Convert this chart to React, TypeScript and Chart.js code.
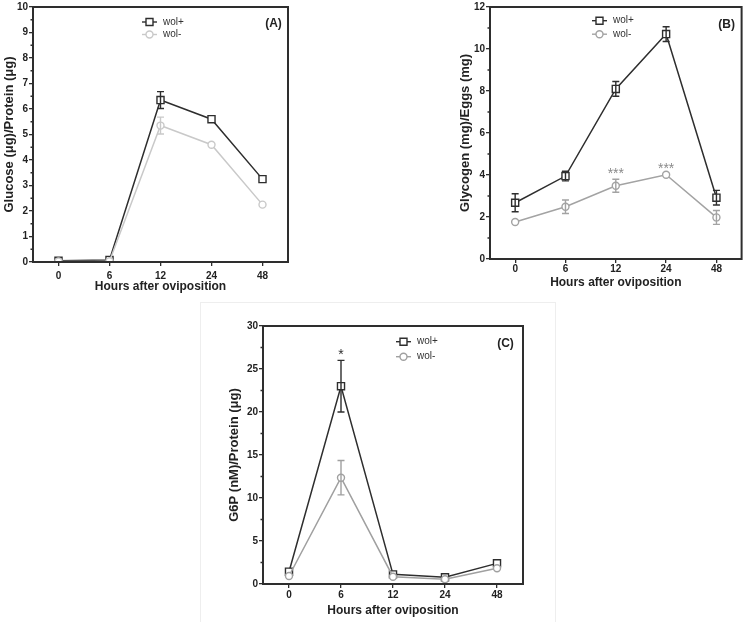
import React, { useEffect, useRef } from 'react';
import { Chart, registerables } from 'chart.js';

Chart.register(...registerables);

// ---------- data ----------
const hours = ['0', '6', '12', '24', '48'];

const glucoseWolPlus = [0.05, 0.08, 6.35, 5.6, 3.25];
const glucoseWolPlusErr = [0, 0, 0.33, 0, 0];
const glucoseWolMinus = [0.02, 0.03, 5.35, 4.6, 2.25];
const glucoseWolMinusErr = [0, 0, 0.33, 0, 0];

const glycogenWolPlus = [2.68, 3.95, 8.1, 10.71, 2.92];
const glycogenWolPlusErr = [0.43, 0.23, 0.35, 0.35, 0.35];
const glycogenWolMinus = [1.76, 2.49, 3.49, 4.01, 1.98];
const glycogenWolMinusErr = [0, 0.32, 0.31, 0, 0.33];

const g6pWolPlus = [1.43, 23.0, 1.12, 0.78, 2.4];
const g6pWolPlusErr = [0, 3.0, 0, 0, 0];
const g6pWolMinus = [0.93, 12.36, 0.85, 0.55, 1.83];
const g6pWolMinusErr = [0, 2.0, 0, 0, 0];

const seriesNames = ['wol+', 'wol-'];
const xTitle = 'Hours after oviposition';

// ---------- style ----------
const FONT = "'Liberation Sans', Arial, Helvetica, sans-serif";
const DARK = '#2e2e2e';
const TEXT = '#222222';

type Series = { label: string; values: number[]; errors: number[]; color: string; style: 'rect' | 'circle' };
type Note = { index: number; text: string; series: number; gap: number; color: string };

interface PanelSpec {
  left: number; top: number; width: number; height: number;
  padding: { left: number; top: number; right: number; bottom: number };
  yWidth: number; xHeight: number;
  yMax: number; yStep: number; yMinor: number;
  yTitle: string; yTitlePad: number;
  xTickPad: number; xTitlePad: number;
  series: Series[];
  legendX: number; legendY: number; legendGap: number;
  tag: string; tagX: number; tagY: number;
  notes: Note[];
}

const panels: PanelSpec[] = [
  {
    left: 0, top: 0, width: 300, height: 300,
    padding: { left: 0, top: 7, right: 12, bottom: 0 },
    yWidth: 33, xHeight: 38,
    yMax: 10, yStep: 1, yMinor: 0.5,
    yTitle: 'Glucose (μg)/Protein (μg)', yTitlePad: 1.5,
    xTickPad: 4.5, xTitlePad: 6.5,
    series: [
      { label: seriesNames[0], values: glucoseWolPlus, errors: glucoseWolPlusErr, color: DARK, style: 'rect' },
      { label: seriesNames[1], values: glucoseWolMinus, errors: glucoseWolMinusErr, color: '#c9c9c9', style: 'circle' },
    ],
    legendX: 142, legendY: 22, legendGap: 12.5,
    tag: '(A)', tagX: 273.5, tagY: 24,
    notes: [],
  },
  {
    left: 380, top: 0, width: 368, height: 300,
    padding: { left: 77, top: 7, right: 5, bottom: 0 },
    yWidth: 33, xHeight: 41,
    yMax: 12, yStep: 2, yMinor: 1,
    yTitle: 'Glycogen (mg)/Eggs (mg)', yTitlePad: 0.5,
    xTickPad: 0.7, xTitlePad: 10,
    series: [
      { label: seriesNames[0], values: glycogenWolPlus, errors: glycogenWolPlusErr, color: DARK, style: 'rect' },
      { label: seriesNames[1], values: glycogenWolMinus, errors: glycogenWolMinusErr, color: '#a3a3a3', style: 'circle' },
    ],
    legendX: 212, legendY: 20.7, legendGap: 13.5,
    tag: '(B)', tagX: 346.7, tagY: 24.3,
    notes: [
      { index: 2, text: '***', series: 1, gap: 9.5, color: '#8a8a8a' },
      { index: 3, text: '***', series: 1, gap: 10, color: '#8a8a8a' },
    ],
  },
  {
    left: 200, top: 300, width: 360, height: 322,
    padding: { left: 26, top: 26, right: 37, bottom: 0 },
    yWidth: 37, xHeight: 38,
    yMax: 30, yStep: 5, yMinor: 2.5,
    yTitle: 'G6P (nM)/Protein (μg)', yTitlePad: 0.8,
    xTickPad: 1, xTitlePad: 3.8,
    series: [
      { label: seriesNames[0], values: g6pWolPlus, errors: g6pWolPlusErr, color: DARK, style: 'rect' },
      { label: seriesNames[1], values: g6pWolMinus, errors: g6pWolMinusErr, color: '#a0a0a0', style: 'circle' },
    ],
    legendX: 196, legendY: 41.7, legendGap: 15,
    tag: '(C)', tagX: 305.5, tagY: 43.3,
    notes: [{ index: 1, text: '*', series: 0, gap: 10, color: DARK }],
  },
];

function drawMarker(ctx: CanvasRenderingContext2D, style: string, x: number, y: number, color: string) {
  ctx.save();
  ctx.fillStyle = '#ffffff';
  ctx.strokeStyle = color;
  ctx.lineWidth = 1.4;
  ctx.beginPath();
  if (style === 'rect') ctx.rect(x - 3.5, y - 3.5, 7, 7);
  else ctx.arc(x, y, 3.5, 0, Math.PI * 2);
  ctx.fill();
  ctx.stroke();
  ctx.restore();
}

function makePlugin(spec: PanelSpec) {
  return {
    id: 'panelDecor',
    afterDatasetsDraw(chart: any) {
      const { ctx, scales } = chart;
      const xs = scales.x;
      const ys = scales.y;
      spec.series.forEach((s) => {
        ctx.save();
        ctx.strokeStyle = s.color;
        ctx.lineWidth = 1.4;
        s.values.forEach((v, i) => {
          const e = s.errors[i];
          if (!e) return;
          const px = xs.getPixelForValue(i);
          const yt = ys.getPixelForValue(v + e);
          const yb = ys.getPixelForValue(v - e);
          ctx.beginPath();
          ctx.moveTo(px, yt);
          ctx.lineTo(px, yb);
          ctx.moveTo(px - 3.5, yt);
          ctx.lineTo(px + 3.5, yt);
          ctx.moveTo(px - 3.5, yb);
          ctx.lineTo(px + 3.5, yb);
          ctx.stroke();
        });
        ctx.restore();
      });
    },
    afterDraw(chart: any) {
      const { ctx, chartArea: ca, scales } = chart;
      const xs = scales.x;
      const ys = scales.y;
      ctx.save();
      // frame
      ctx.strokeStyle = DARK;
      ctx.lineWidth = 2;
      ctx.strokeRect(ca.left, ca.top, ca.right - ca.left, ca.bottom - ca.top);
      // minor ticks
      ctx.lineWidth = 1.3;
      ctx.beginPath();
      for (let v = spec.yMinor; v < spec.yMax; v += spec.yMinor * 2) {
        const py = ys.getPixelForValue(v);
        ctx.moveTo(ca.left - 2.5, py);
        ctx.lineTo(ca.left, py);
      }
      ctx.stroke();
      // legend
      spec.series.forEach((s, k) => {
        const ly = spec.legendY + k * spec.legendGap;
        ctx.strokeStyle = s.color;
        ctx.lineWidth = 1.4;
        ctx.beginPath();
        ctx.moveTo(spec.legendX, ly);
        ctx.lineTo(spec.legendX + 15, ly);
        ctx.stroke();
        drawMarker(ctx, s.style, spec.legendX + 7.5, ly, s.color);
        ctx.fillStyle = '#333333';
        ctx.font = `10px ${FONT}`;
        ctx.textAlign = 'left';
        ctx.textBaseline = 'middle';
        ctx.fillText(s.label, spec.legendX + 21, ly);
      });
      // panel tag
      ctx.fillStyle = TEXT;
      ctx.font = `bold 12px ${FONT}`;
      ctx.textAlign = 'center';
      ctx.textBaseline = 'middle';
      ctx.fillText(spec.tag, spec.tagX, spec.tagY);
      // significance notes
      spec.notes.forEach((n) => {
        const s = spec.series[n.series];
        const top = s.values[n.index] + (s.errors[n.index] || 0);
        const py = ys.getPixelForValue(top) - n.gap;
        ctx.fillStyle = n.color;
        ctx.font = `14px ${FONT}`;
        ctx.textAlign = 'center';
        ctx.textBaseline = 'alphabetic';
        ctx.fillText(n.text, xs.getPixelForValue(n.index), py + 0.58 * 14);
      });
      ctx.restore();
    },
  };
}

function Panel({ spec }: { spec: PanelSpec }) {
  const ref = useRef<HTMLCanvasElement | null>(null);
  useEffect(() => {
    if (!ref.current) return;
    const tickFont = { family: FONT, size: 10, weight: 'bold' as const };
    const gridCommon = {
      drawOnChartArea: false,
      drawTicks: true,
      tickLength: 4,
      color: DARK,
      lineWidth: 1.3,
    };
    const chart = new Chart(ref.current, {
      type: 'line',
      data: {
        labels: hours,
        datasets: spec.series.map((s, k) => ({
          label: s.label,
          data: s.values,
          borderColor: s.color,
          borderWidth: 1.5,
          pointStyle: s.style,
          pointRadius: s.style === 'rect' ? 5 : 3.5,
          pointBorderWidth: 1.4,
          pointBackgroundColor: '#ffffff',
          pointBorderColor: s.color,
          tension: 0,
          fill: false,
          order: k === 0 ? 1 : 0,
        })),
      },
      options: {
        animation: false,
        responsive: false,
        devicePixelRatio: 1,
        layout: { padding: spec.padding },
        plugins: { legend: { display: false }, tooltip: { enabled: false } },
        scales: {
          x: {
            type: 'category',
            offset: true,
            grid: gridCommon,
            border: { display: false },
            ticks: { font: tickFont, color: TEXT, padding: spec.xTickPad, maxRotation: 0, autoSkip: false },
            title: {
              display: true,
              text: xTitle,
              font: { family: FONT, size: 12, weight: 'bold' },
              color: TEXT,
              padding: { top: 0, bottom: spec.xTitlePad },
            },
            afterFit: (s: any) => { s.height = spec.xHeight; },
          },
          y: {
            min: 0,
            max: spec.yMax,
            grid: gridCommon,
            border: { display: false },
            ticks: { stepSize: spec.yStep, font: tickFont, color: TEXT, padding: 1 },
            title: {
              display: true,
              text: spec.yTitle,
              font: { family: FONT, size: 13, weight: 'bold' },
              color: TEXT,
              padding: { top: spec.yTitlePad, bottom: 0 },
            },
            afterFit: (s: any) => { s.width = spec.yWidth; },
          },
        },
      } as any,
      plugins: [makePlugin(spec)],
    });
    return () => chart.destroy();
  }, [spec]);
  return (
    <canvas
      ref={ref}
      width={spec.width}
      height={spec.height}
      style={{ position: 'absolute', left: spec.left, top: spec.top, width: spec.width, height: spec.height }}
    />
  );
}

export default function App() {
  return (
    <div style={{ position: 'absolute', left: 0, top: 0, width: 748, height: 622, background: '#ffffff', overflow: 'hidden' }}>
      <div style={{ position: 'absolute', left: 200, top: 302, width: 356, height: 322, border: '1px solid #eeeeee', boxSizing: 'border-box' }} />
      {panels.map((p) => (
        <Panel key={p.tag} spec={p} />
      ))}
    </div>
  );
}
